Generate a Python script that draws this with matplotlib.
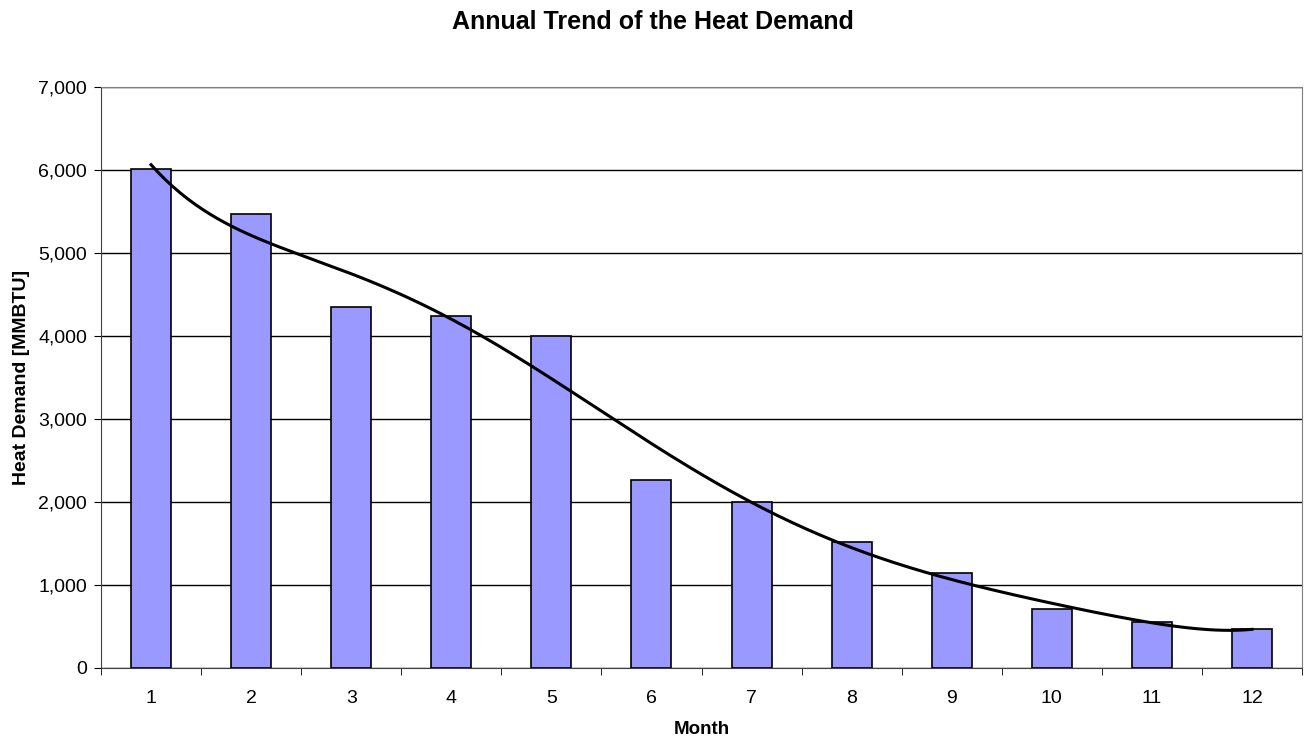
import numpy as np
import matplotlib.pyplot as plt
from matplotlib.ticker import FuncFormatter

plt.rcParams['font.family'] = ['Liberation Sans', 'DejaVu Sans']

months = [1, 2, 3, 4, 5, 6, 7, 8, 9, 10, 11, 12]
heat_demand = [6010, 5470, 4350, 4240, 3995, 2265, 2000, 1515, 1145, 710, 550, 470]

# polynomial trend line through the monthly values
coef = np.polyfit(months, heat_demand, 6)
x_fit = np.linspace(1, 12, 300)
y_fit = np.polyval(coef, x_fit)

fig = plt.figure(figsize=(13.05, 7.38), dpi=100)
ax = fig.add_axes([101 / 1305, 1 - 668 / 738, 1201 / 1305, 581 / 738])

ax.bar(months, heat_demand, width=0.4, color='#9999ff', edgecolor='black',
       linewidth=1.2, zorder=3)
ax.plot(x_fit, y_fit, color='black', linewidth=2.2, zorder=4)

ax.set_xlim(0.5, 12.5)
ax.set_ylim(0, 7000)
ax.set_yticks(np.arange(0, 7001, 1000))
ax.yaxis.set_major_formatter(FuncFormatter(lambda v, p: f"{int(v):,}"))
ax.set_xticks(months)
ax.set_xticks(np.arange(0.5, 12.6, 1), minor=True)
ax.tick_params(axis='x', which='major', length=0, labelsize=14, pad=16)
ax.tick_params(axis='x', which='minor', length=5, direction='out')
ax.tick_params(axis='y', length=5, labelsize=14, direction='out', pad=5)

ax.grid(axis='y', color='black', linewidth=1, zorder=0)
for side in ['top', 'right']:
    ax.spines[side].set_color('#808080')
ax.spines['left'].set_color('#404040')
ax.spines['bottom'].set_color('#404040')

ax.set_xlabel('Month', fontsize=13.5, fontweight='bold', labelpad=10)
ax.set_ylabel('Heat Demand [MMBTU]', fontsize=14, fontweight='bold', labelpad=6)
fig.suptitle('Annual Trend of the Heat Demand', fontsize=18, fontweight='bold', y=0.987)

fig.savefig('out.png', dpi=100)
